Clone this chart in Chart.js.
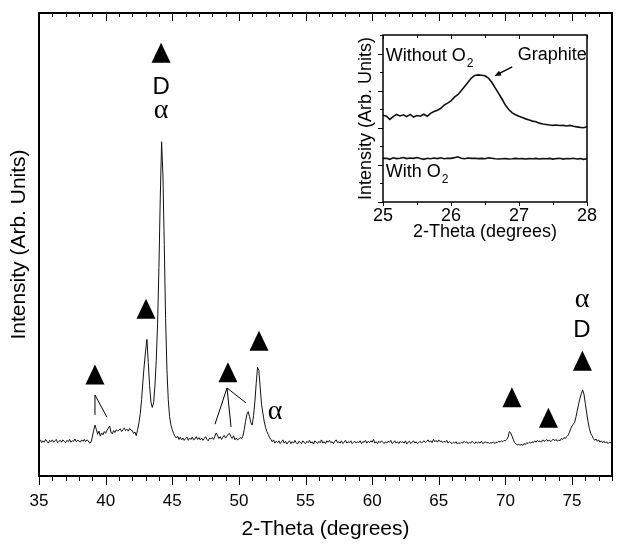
<!DOCTYPE html>
<html>
<head>
<meta charset="utf-8">
<script src="https://cdn.jsdelivr.net/npm/chart.js@4.4.1/dist/chart.umd.min.js"></script>
<style>
body { margin: 0; background: #fff; }
#wrap { position: relative; width: 624px; height: 551px; }
#main { position: absolute; left: 0; top: 0; }
#inset { position: absolute; left: 340px; top: 25px; }
</style>
</head>
<body>
<div id="wrap">
<canvas id="main" width="624" height="551"></canvas>
<canvas id="inset" width="260" height="220"></canvas>
</div>
<script>
Chart.defaults.font.family = '"Liberation Sans", Arial, sans-serif';
Chart.defaults.color = '#000';

// main pattern, 2-theta from 35 to 78 in steps of 0.1
var thetaStart = 35, thetaStep = 0.1;
var intensity = [
  7.4, 7.8, 7.2, 7.6, 7.3, 7.9, 7.5, 7.1, 7.7, 7.4,
  7.8, 7.3, 7.6, 7.9, 7.2, 7.5, 7.7, 7.3, 7.8, 7.5,
  7.2, 7.7, 7.4, 7.9, 7.3, 7.6, 7.5, 8.0, 7.4, 7.7,
  7.6, 7.3, 7.8, 7.5, 7.9, 7.4, 7.8, 7.6, 7.1, 7.3,
  8.4, 9.8, 11.0, 10.1, 9.0, 9.7, 8.6, 9.3, 8.9, 9.6,
  9.2, 9.9, 10.3, 10.8, 9.5, 9.1, 9.8, 9.4, 10.0, 9.7,
  9.9, 10.2, 9.6, 10.0, 10.4, 9.8, 10.1, 9.7, 10.3, 9.9,
  9.8, 9.2, 9.5, 8.7, 10.0, 11.5, 13.5, 16.5, 20.5, 24.0,
  27.0, 29.5, 24.5, 19.5, 16.0, 14.8, 15.8, 19.5, 25.0, 33.0,
  45.0, 60.0, 72.2, 65.0, 50.0, 34.0, 23.0, 16.5, 12.8, 11.0,
  10.0, 9.2, 8.6, 8.2, 8.6, 7.9, 8.4, 7.8, 8.2, 7.7,
  8.1, 8.4, 7.7, 8.2, 7.9, 8.4, 7.8, 8.0, 8.5, 7.9,
  8.3, 7.8, 8.2, 7.7, 8.1, 8.5, 7.9, 7.6, 8.2, 8.0,
  8.3, 7.9, 8.6, 9.3, 8.7, 8.1, 8.5, 7.9, 8.4, 8.8,
  8.2, 8.6, 9.0, 9.2, 8.5, 8.1, 8.7, 7.8, 8.2, 7.8,
  8.0, 8.3, 8.1, 8.6, 10.0, 11.8, 13.3, 13.9, 12.8, 11.5,
  11.0, 13.0, 16.0, 20.0, 23.5, 22.8, 19.0, 15.5, 13.6, 11.8,
  10.5, 9.6, 9.0, 8.3, 7.9, 7.4, 7.8, 7.1, 7.5, 7.2,
  7.6, 7.0, 7.4, 7.8, 7.1, 7.5, 6.9, 7.3, 7.6, 7.0,
  7.4, 7.1, 7.7, 7.2, 6.9, 7.5, 7.3, 7.0, 7.6, 7.2,
  7.0, 7.5, 7.2, 7.7, 7.1, 7.4, 6.9, 7.6, 7.3, 7.0,
  7.5, 7.2, 7.8, 7.1, 7.4, 7.0, 7.6, 7.3, 7.7, 7.2,
  7.4, 7.0, 7.5, 7.8, 7.2, 7.4, 7.1, 7.6, 7.0, 7.3,
  7.7, 7.1, 7.4, 7.2, 7.6, 7.0, 7.3, 7.5, 7.1, 7.4,
  7.2, 7.6, 7.0, 7.4, 7.3, 7.7, 7.1, 7.5, 7.2, 7.6,
  7.3, 7.9, 7.1, 7.4, 7.0, 7.5, 7.2, 7.6, 7.3, 7.0,
  7.4, 7.1, 7.5, 7.3, 7.7, 7.0, 7.2, 7.6, 7.1, 7.4,
  7.0, 7.5, 7.2, 7.4, 7.1, 7.6, 6.9, 7.3, 7.5, 7.0,
  7.3, 7.6, 7.1, 7.4, 7.0, 7.2, 7.5, 7.1, 7.4, 7.6,
  7.2, 7.5, 7.8, 7.3, 7.6, 7.2, 7.9, 7.4, 7.7, 7.3,
  7.8, 7.4, 7.6, 7.2, 7.5, 7.3, 7.7, 7.1, 7.4, 7.2,
  7.0, 7.3, 7.1, 7.4, 6.9, 7.2, 7.0, 7.3, 7.1, 7.5,
  7.2, 7.4, 7.0, 7.3, 7.1, 7.5, 7.2, 7.0, 7.4, 7.1,
  7.3, 7.1, 7.5, 7.0, 7.2, 7.4, 7.1, 7.3, 7.0, 7.2,
  7.1, 7.4, 7.0, 7.3, 7.2, 7.5, 7.3, 7.6, 7.4, 7.7,
  7.6, 7.9, 8.4, 9.6, 9.3, 8.6, 7.8, 7.2, 6.9, 6.7,
  6.9, 6.6, 6.9, 6.6, 7.0, 6.8, 7.2, 7.0, 7.3, 7.1,
  7.4, 7.2, 7.6, 7.3, 7.7, 7.4, 7.6, 7.3, 7.8, 7.5,
  7.6, 7.9, 7.5, 7.8, 7.4, 7.7, 8.0, 7.6, 7.9, 7.5,
  7.8, 7.6, 8.1, 7.9, 8.3, 8.1, 8.5, 8.8, 9.4, 10.2,
  10.8, 11.2, 11.6, 12.8, 14.2, 15.6, 16.8, 17.8, 18.6, 17.6,
  15.6, 13.6, 11.8, 10.3, 9.2, 8.7, 8.1, 7.7, 8.0, 7.5,
  7.8, 7.3, 7.6, 7.2, 7.5, 7.1, 7.4, 7.0, 7.3, 7.2,
  7.6
];
var xTicks = [35, 40, 45, 50, 55, 60, 65, 70, 75];

// phase markers: [2-theta, intensity]
var triangles = [[44.16, 91.4], [43.03, 36.1], [39.2, 21.9], [49.18, 22.4], [51.51, 29.2], [70.49, 17.0], [73.23, 12.6], [75.78, 24.9]];
var phaseLabels = [["D", 44.16, 84.0], ["\u03b1", 44.16, 79.0], ["\u03b1", 52.71, 13.8], ["D", 75.75, 31.5], ["\u03b1", 75.75, 38.0]];
var leaders = [[39.2, 17.5, 39.2, 13.2], [39.2, 17.5, 40.1, 12.7], [49.11, 19.0, 48.21, 11.2], [49.11, 19.0, 49.41, 10.6], [49.11, 19.0, 50.53, 15.8]];

// inset, 2-theta 25 to 28 in steps of 0.05
var insetStart = 25, insetStep = 0.05;
var withoutO2 = [
  4.68, 4.62, 4.45, 4.60, 4.72, 4.64, 4.70, 4.60, 4.72, 4.58,
  4.66, 4.62, 4.73, 4.62, 4.78, 4.88, 4.95, 5.05, 5.22, 5.33,
  5.45, 5.65, 5.78, 6.00, 6.22, 6.45, 6.68, 6.82, 6.85, 6.83,
  6.80, 6.68, 6.45, 6.15, 5.85, 5.55, 5.22, 4.98, 4.80, 4.70,
  4.62, 4.55, 4.48, 4.42, 4.36, 4.33, 4.25, 4.20, 4.18, 4.15,
  4.13, 4.15, 4.12, 4.13, 4.10, 4.13, 4.08, 4.05, 4.02, 4.00,
  4.06
];
var withO2 = [
  2.35, 2.36, 2.30, 2.38, 2.34, 2.36, 2.40, 2.34, 2.37, 2.35,
  2.40, 2.34, 2.30, 2.36, 2.33, 2.37, 2.34, 2.38, 2.33, 2.36,
  2.35, 2.39, 2.44, 2.36, 2.33, 2.37, 2.35, 2.36, 2.34, 2.35,
  2.33, 2.38, 2.36, 2.33, 2.32, 2.33, 2.34, 2.32, 2.33, 2.35,
  2.33, 2.34, 2.32, 2.34, 2.33, 2.35, 2.32, 2.34, 2.33, 2.35,
  2.31, 2.34, 2.36, 2.31, 2.34, 2.33, 2.36, 2.32, 2.34, 2.30,
  2.33
];
var insetTicks = [25, 26, 27, 28];
var insetNotes = [["Without O", 25.04, 7.87], ["With O", 25.04, 1.62]];
var graphiteNote = ["Graphite", 26.98, 7.92];
var graphiteArrow = [26.90, 7.28, 26.64, 6.79];

function toPoints(start, step, values) {
  return values.map(function (v, i) {
    return { x: +(start + i * step).toFixed(2), y: v };
  });
}

// box around the plot area + tick marks drawn on its edges
function framePlugin(lineWidth, marks) {
  return {
    id: 'frame',
    afterDraw: function (chart) {
      var ctx = chart.ctx, a = chart.chartArea;
      ctx.save();
      ctx.strokeStyle = '#000';
      ctx.lineWidth = 1;
      marks.forEach(function (m) {
        var scale = chart.scales[m.axis];
        var n = Math.round((m.to - m.from) / m.step);
        for (var i = 0; i <= n; i++) {
          var v = m.from + i * m.step;
          var r = v / m.major;
          var len = Math.abs(r - Math.round(r)) < 1e-6 ? m.majorLen : m.minorLen;
          var p = Math.round(scale.getPixelForValue(v)) + 0.5;
          ctx.beginPath();
          if (m.edge === 'bottom') { ctx.moveTo(p, a.bottom); ctx.lineTo(p, a.bottom + len); }
          if (m.edge === 'top') { ctx.moveTo(p, a.top); ctx.lineTo(p, a.top + len); }
          if (m.edge === 'left') { ctx.moveTo(a.left, p); ctx.lineTo(a.left - len, p); }
          ctx.stroke();
        }
      });
      ctx.lineWidth = lineWidth;
      ctx.strokeRect(a.left, a.top, a.right - a.left, a.bottom - a.top);
      ctx.restore();
    }
  };
}

var markerPlugin = {
  id: 'markers',
  afterDatasetsDraw: function (chart) {
    var ctx = chart.ctx, xs = chart.scales.x, ys = chart.scales.y;
    ctx.save();
    ctx.fillStyle = '#000';
    ctx.strokeStyle = '#000';
    triangles.forEach(function (t) {
      var cx = xs.getPixelForValue(t[0]), cy = ys.getPixelForValue(t[1]);
      ctx.beginPath();
      ctx.moveTo(cx, cy - 10);
      ctx.lineTo(cx + 9.5, cy + 10);
      ctx.lineTo(cx - 9.5, cy + 10);
      ctx.closePath();
      ctx.fill();
    });
    ctx.lineWidth = 1;
    leaders.forEach(function (l) {
      ctx.beginPath();
      ctx.moveTo(xs.getPixelForValue(l[0]), ys.getPixelForValue(l[1]));
      ctx.lineTo(xs.getPixelForValue(l[2]), ys.getPixelForValue(l[3]));
      ctx.stroke();
    });
    ctx.textAlign = 'center';
    ctx.textBaseline = 'middle';
    phaseLabels.forEach(function (p) {
      ctx.font = p[0] === 'D' ? '24px "Liberation Sans", Arial, sans-serif' : '28px "Liberation Serif", serif';
      ctx.fillText(p[0], xs.getPixelForValue(p[1]), ys.getPixelForValue(p[2]));
    });
    ctx.restore();
  }
};

var insetNotePlugin = {
  id: 'insetNotes',
  afterDatasetsDraw: function (chart) {
    var ctx = chart.ctx, xs = chart.scales.x, ys = chart.scales.y;
    ctx.save();
    ctx.fillStyle = '#000';
    ctx.strokeStyle = '#000';
    ctx.textAlign = 'left';
    ctx.textBaseline = 'middle';
    insetNotes.forEach(function (n) {
      var x = xs.getPixelForValue(n[1]), y = ys.getPixelForValue(n[2]);
      ctx.font = '18px "Liberation Sans", Arial, sans-serif';
      ctx.fillText(n[0], x, y);
      var w = ctx.measureText(n[0]).width;
      ctx.font = '12px "Liberation Sans", Arial, sans-serif';
      ctx.fillText('2', x + w + 1, y + 8);
    });
    ctx.font = '18px "Liberation Sans", Arial, sans-serif';
    ctx.fillText(graphiteNote[0], xs.getPixelForValue(graphiteNote[1]), ys.getPixelForValue(graphiteNote[2]));
    var x1 = xs.getPixelForValue(graphiteArrow[0]), y1 = ys.getPixelForValue(graphiteArrow[1]);
    var x2 = xs.getPixelForValue(graphiteArrow[2]), y2 = ys.getPixelForValue(graphiteArrow[3]);
    var ang = Math.atan2(y2 - y1, x2 - x1);
    ctx.lineWidth = 1.3;
    ctx.beginPath();
    ctx.moveTo(x1, y1);
    ctx.lineTo(x2 - 4 * Math.cos(ang), y2 - 4 * Math.sin(ang));
    ctx.stroke();
    ctx.beginPath();
    ctx.moveTo(x2, y2);
    ctx.lineTo(x2 - 7 * Math.cos(ang - 0.4), y2 - 7 * Math.sin(ang - 0.4));
    ctx.lineTo(x2 - 7 * Math.cos(ang + 0.4), y2 - 7 * Math.sin(ang + 0.4));
    ctx.closePath();
    ctx.fill();
    ctx.restore();
  }
};

var mainChart = new Chart(document.getElementById('main'), {
  type: 'line',
  data: {
    datasets: [{
      data: toPoints(thetaStart, thetaStep, intensity),
      borderColor: '#111',
      borderWidth: 1,
      pointRadius: 0,
      tension: 0
    }]
  },
  options: {
    responsive: false,
    animation: false,
    devicePixelRatio: 1,
    layout: { padding: { top: 13, right: 12, left: 0, bottom: 0 } },
    plugins: { legend: { display: false }, tooltip: { enabled: false } },
    scales: {
      x: {
        type: 'linear',
        min: 35,
        max: 78,
        grid: { display: false, drawTicks: false },
        border: { display: false },
        afterBuildTicks: function (scale) {
          scale.ticks = xTicks.map(function (v) { return { value: v }; });
        },
        afterFit: function (scale) { scale.height = 75; },
        ticks: { font: { size: 17 }, padding: 15, maxRotation: 0 },
        title: { display: true, text: '2-Theta (degrees)', font: { size: 21 }, padding: { top: 0, bottom: 9 } }
      },
      y: {
        min: 0,
        max: 100,
        grid: { display: false, drawTicks: false },
        border: { display: false },
        ticks: { display: false },
        afterFit: function (scale) { scale.width = 39; },
        title: { display: true, text: 'Intensity (Arb. Units)', font: { size: 21 }, padding: { top: 7, bottom: 0 } }
      }
    }
  },
  plugins: [
    framePlugin(2, [
      { axis: 'x', edge: 'bottom', from: 35, to: 78, step: 1, major: 5, majorLen: 9, minorLen: 5 },
      { axis: 'x', edge: 'top', from: 35, to: 78, step: 1, major: 5, majorLen: 8, minorLen: 4 }
    ]),
    markerPlugin
  ]
});

var insetChart = new Chart(document.getElementById('inset'), {
  type: 'line',
  data: {
    datasets: [{
      data: toPoints(insetStart, insetStep, withoutO2),
      borderColor: '#111',
      borderWidth: 1.6,
      pointRadius: 0,
      tension: 0
    }, {
      data: toPoints(insetStart, insetStep, withO2),
      borderColor: '#111',
      borderWidth: 1.6,
      pointRadius: 0,
      tension: 0
    }]
  },
  options: {
    responsive: false,
    animation: false,
    devicePixelRatio: 1,
    layout: { padding: { top: 10, right: 12, left: 0, bottom: 0 } },
    plugins: { legend: { display: false }, tooltip: { enabled: false } },
    scales: {
      x: {
        type: 'linear',
        min: 25,
        max: 28,
        grid: { display: false, drawTicks: false },
        border: { display: false },
        afterBuildTicks: function (scale) {
          scale.ticks = insetTicks.map(function (v) { return { value: v }; });
        },
        afterFit: function (scale) { scale.height = 43; },
        ticks: { font: { size: 18 }, padding: 3, maxRotation: 0 },
        title: { display: true, text: '2-Theta (degrees)', font: { size: 18 }, padding: { top: 0, bottom: 2 } }
      },
      y: {
        min: 0,
        max: 9,
        grid: { display: false, drawTicks: false },
        border: { display: false },
        ticks: { display: false },
        afterFit: function (scale) { scale.width = 43; },
        title: { display: true, text: 'Intensity (Arb. Units)', font: { size: 18 }, padding: { top: 15, bottom: 0 } }
      }
    }
  },
  plugins: [
    framePlugin(1.5, [
      { axis: 'x', edge: 'bottom', from: 25, to: 28, step: 0.5, major: 1, majorLen: 4, minorLen: 3 },
      { axis: 'x', edge: 'top', from: 25, to: 28, step: 0.5, major: 1, majorLen: 4, minorLen: 3 },
      { axis: 'y', edge: 'left', from: 0, to: 9, step: 1, major: 2, majorLen: 5, minorLen: 3 }
    ]),
    insetNotePlugin
  ]
});
</script>
</body>
</html>
